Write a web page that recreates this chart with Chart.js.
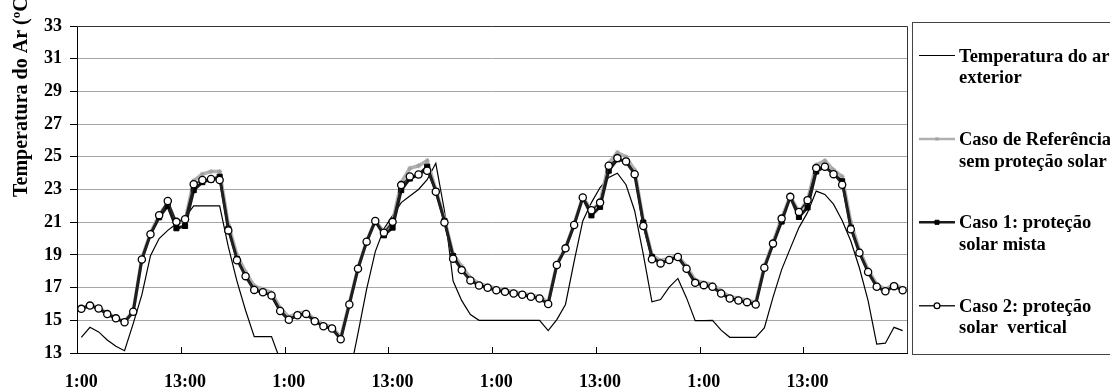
<!DOCTYPE html>
<html>
<head>
<meta charset="utf-8">
<script src="https://cdn.jsdelivr.net/npm/chart.js@4"></script>
<style>
	html, body { margin: 0; padding: 0; background: #fff; }
	#wrap { width: 1110px; height: 387px; }
</style>
</head>
<body>
<div id="wrap"><canvas id="temp_chart" width="1110" height="387"></canvas></div>
<script>
// hourly categories, four days
const hours = ['1:00', '2:00', '3:00', '4:00', '5:00', '6:00', '7:00', '8:00', '9:00', '10:00', '11:00', '12:00',
	'13:00', '14:00', '15:00', '16:00', '17:00', '18:00', '19:00', '20:00', '21:00', '22:00', '23:00', '24:00'];
const days = 4;
const labels = [];
for (let d = 0; d < days; d++) labels.push(...hours);

const yTicks = [13, 15, 17, 19, 21, 23, 25, 27, 29, 31, 33];

// Temperatura do ar exterior
const t_exterior = [
	13.96, 14.57, 14.29, 13.80, 13.41, 13.14, 14.80, 16.55, 18.95, 20.00, 20.50, 20.90,
	21.30, 22.00, 22.00, 22.00, 22.00, 19.50, 17.40, 15.60, 14.00, 14.00, 14.00, 12.57,
	12.30, 12.60, 12.95, 12.50, 12.20, 12.00, 11.80, 11.60, 14.20, 16.90, 19.20, 20.60,
	21.40, 22.20, 22.60, 23.00, 23.60, 24.60, 21.70, 17.40, 16.20, 15.35, 15.00, 15.00,
	15.00, 15.00, 15.00, 15.00, 15.00, 15.00, 14.37, 15.04, 15.97, 18.60, 21.08, 22.20,
	23.12, 23.74, 24.00, 23.29, 21.70, 19.03, 16.13, 16.27, 17.03, 17.56, 16.37, 14.98,
	14.98, 15.00, 14.40, 13.96, 13.96, 13.96, 13.96, 14.53, 16.40, 18.10, 19.40, 20.67,
	21.60, 22.90, 22.70, 22.10, 21.10, 19.85, 18.20, 16.20, 13.55, 13.60, 14.57, 14.37
];

// Caso de Referência sem proteção solar
const t_referencia = [
	15.75, 15.95, 15.77, 15.43, 15.17, 14.93, 15.57, 18.80, 20.35, 21.45, 22.20, 20.90,
	21.10, 23.53, 23.94, 24.10, 24.10, 20.88, 19.00, 17.95, 17.10, 16.90, 16.70, 15.75,
	15.20, 15.45, 15.50, 15.05, 14.75, 14.60, 13.95, 16.05, 18.20, 19.85, 21.10, 20.40,
	21.00, 23.43, 24.30, 24.45, 24.76, 23.00, 21.20, 19.05, 18.30, 17.60, 17.25, 17.10,
	16.95, 16.85, 16.75, 16.65, 16.55, 16.45, 16.10, 18.45, 19.45, 20.90, 22.55, 21.70,
	22.20, 24.60, 25.27, 25.00, 24.20, 21.10, 19.00, 18.65, 18.80, 18.95, 18.30, 17.45,
	17.30, 17.20, 16.80, 16.45, 16.35, 16.25, 16.10, 18.30, 19.75, 21.25, 22.60, 21.60,
	22.35, 24.50, 24.76, 24.20, 23.80, 21.00, 19.30, 18.10, 17.20, 16.90, 17.20, 16.95
];

// Caso 1: proteção solar mista
const t_caso1 = [
	15.70, 15.90, 15.72, 15.38, 15.12, 14.88, 15.52, 18.72, 20.26, 21.30, 22.00, 20.63,
	20.77, 22.96, 23.45, 23.60, 23.78, 20.60, 18.75, 17.70, 16.86, 16.72, 16.52, 15.57,
	15.03, 15.31, 15.39, 14.94, 14.64, 14.50, 13.84, 15.97, 18.16, 19.81, 21.08, 20.20,
	20.67, 22.96, 23.67, 23.90, 24.39, 22.90, 21.08, 18.93, 18.07, 17.44, 17.13, 16.99,
	16.84, 16.74, 16.64, 16.56, 16.44, 16.33, 16.00, 18.38, 19.40, 20.83, 22.51, 21.42,
	21.94, 24.15, 24.85, 24.72, 23.94, 20.98, 18.87, 18.48, 18.69, 18.87, 18.15, 17.29,
	17.15, 17.05, 16.64, 16.33, 16.21, 16.11, 15.97, 18.21, 19.65, 21.04, 22.55, 21.32,
	21.90, 24.10, 24.40, 23.94, 23.50, 20.67, 19.13, 17.95, 17.05, 16.78, 17.09, 16.84
];

// Caso 2: proteção solar vertical
const t_caso2 = [
	15.70, 15.90, 15.72, 15.38, 15.12, 14.88, 15.52, 18.72, 20.26, 21.43, 22.30, 21.02,
	21.18, 23.32, 23.58, 23.64, 23.58, 20.50, 18.67, 17.70, 16.86, 16.72, 16.52, 15.57,
	15.03, 15.31, 15.39, 14.94, 14.64, 14.50, 13.84, 15.97, 18.16, 19.81, 21.08, 20.36,
	21.02, 23.27, 23.80, 23.92, 24.15, 22.86, 20.98, 18.77, 18.07, 17.44, 17.13, 16.99,
	16.84, 16.74, 16.64, 16.56, 16.44, 16.33, 16.00, 18.38, 19.40, 20.83, 22.51, 21.73,
	22.20, 24.45, 24.92, 24.72, 23.94, 20.77, 18.73, 18.48, 18.69, 18.87, 18.15, 17.29,
	17.15, 17.05, 16.64, 16.33, 16.21, 16.11, 15.97, 18.21, 19.69, 21.22, 22.55, 21.63,
	22.35, 24.31, 24.39, 23.94, 23.29, 20.57, 19.13, 17.95, 17.05, 16.78, 17.09, 16.84
];

const legendLines = [
	['Temperatura do ar', 'exterior'],
	['Caso de Referência', 'sem proteção solar'],
	['Caso 1: proteção', 'solar mista'],
	['Caso 2: proteção', 'solar  vertical'],
];

const serif = '"Liberation Serif", "Times New Roman", serif';

// legend in a box on the right, drawn from the dataset styles
const boxLegend = {
	id: 'boxLegend',
	afterDraw(chart) {
		const ctx = chart.ctx;
		const area = chart.chartArea;
		const left = area.right + 5;
		ctx.save();
		ctx.strokeStyle = '#444';
		ctx.lineWidth = 1;
		ctx.strokeRect(left + 0.5, 22.5, 400, 332);
		ctx.font = 'bold 18.5px ' + serif;
		ctx.textBaseline = 'alphabetic';
		ctx.textAlign = 'left';
		chart.data.datasets.forEach((ds, i) => {
			const base = 61.5 + i * 83.4;
			const ly = base - 6;
			ctx.strokeStyle = ds.borderColor;
			ctx.lineWidth = Math.min(ds.borderWidth, 2.5);
			ctx.beginPath();
			ctx.moveTo(left + 7, ly);
			ctx.lineTo(left + 43, ly);
			ctx.stroke();
			if (ds.pointRadius > 0) {
				ctx.fillStyle = ds.pointBackgroundColor;
				ctx.strokeStyle = ds.pointBorderColor;
				ctx.lineWidth = ds.pointBorderWidth;
				Chart.helpers.drawPoint(ctx, {
					pointStyle: ds.pointStyle,
					radius: ds.pointRadius * 0.8,
					rotation: 0,
					borderWidth: ds.pointBorderWidth
				}, left + 25, ly);
			}
			ctx.fillStyle = '#000';
			legendLines[i].forEach((line, k) => {
				ctx.fillText(line, left + 47, base + k * 21.7);
			});
		});
		ctx.restore();
	}
};

// rotated axis title, cut at the top like the original
const yTitle = {
	id: 'yTitle',
	afterDraw(chart) {
		const ctx = chart.ctx;
		ctx.save();
		ctx.translate(27, 197);
		ctx.rotate(-Math.PI / 2);
		ctx.font = 'bold 20px ' + serif;
		ctx.fillStyle = '#000';
		ctx.textAlign = 'left';
		ctx.fillText('Temperatura do Ar (ºC)', 0, 0);
		ctx.restore();
	}
};

// inward x tick marks every 12 h + top/right frame
const frameTicks = {
	id: 'frameTicks',
	afterDatasetsDraw(chart) {
		const xs = chart.scales.x;
		const a = chart.chartArea;
		const ctx = chart.ctx;
		ctx.save();
		ctx.strokeStyle = '#000';
		ctx.lineWidth = 1;
		for (let i = 12; i < labels.length; i += 12) {
			const px = Math.round((xs.getPixelForValue(i - 1) + xs.getPixelForValue(i)) / 2) + 0.5;
			ctx.beginPath();
			ctx.moveTo(px, a.bottom);
			ctx.lineTo(px, a.bottom - 6);
			ctx.stroke();
		}
		ctx.strokeStyle = '#333';
		ctx.beginPath();
		ctx.moveTo(a.left, Math.round(a.top) + 0.5);
		ctx.lineTo(Math.round(a.right) + 0.5, Math.round(a.top) + 0.5);
		ctx.lineTo(Math.round(a.right) + 0.5, a.bottom);
		ctx.stroke();
		ctx.restore();
	}
};

const data_temp = {
	labels: labels,
	datasets: [
		{
			label: 'Temperatura do ar exterior',
			data: t_exterior,
			borderColor: '#000',
			borderWidth: 1.2,
			pointRadius: 0,
			order: 4,
		},
		{
			label: 'Caso de Referência sem proteção solar',
			data: t_referencia,
			borderColor: '#b0b0b0',
			borderWidth: 3.5,
			pointStyle: 'star',
			pointRadius: 2.5,
			pointBorderWidth: 1,
			pointBorderColor: '#a0a0a0',
			pointBackgroundColor: '#a0a0a0',
			order: 3,
		},
		{
			label: 'Caso 1: proteção solar mista',
			data: t_caso1,
			borderColor: '#1a1a1a',
			borderWidth: 3,
			pointStyle: 'rect',
			pointRadius: 3.6,
			pointBorderWidth: 1,
			pointBorderColor: '#000',
			pointBackgroundColor: '#000',
			order: 2,
		},
		{
			label: 'Caso 2: proteção solar vertical',
			data: t_caso2,
			borderColor: '#222',
			borderWidth: 1.5,
			pointStyle: 'circle',
			pointRadius: 3.6,
			pointBorderWidth: 1.3,
			pointBorderColor: '#000',
			pointBackgroundColor: '#fff',
			order: 1,
		},
	]
};

const config_temp = {
	type: 'line',
	data: data_temp,
	plugins: [frameTicks, boxLegend, yTitle],
	options: {
		responsive: false,
		animation: false,
		devicePixelRatio: 1,
		layout: {
			padding: { top: 26, right: 203, bottom: 0, left: 0 }
		},
		plugins: {
			legend: { display: false },
			title: { display: false },
			tooltip: { enabled: false },
		},
		elements: {
			line: { tension: 0 }
		},
		scales: {
			x: {
				type: 'category',
				offset: true,
				afterFit: scale => { scale.height = 34; },
				grid: { display: false, offset: true },
				border: { display: true, color: '#000', width: 1 },
				ticks: {
					autoSkip: false,
					maxRotation: 0,
					padding: 11,
					color: '#000',
					font: { family: serif, size: 18, weight: 'bold' },
					callback: (val, idx) => idx % 12 === 0 ? labels[idx] : null,
				}
			},
			y: {
				min: yTicks[0],
				max: yTicks[yTicks.length - 1],
				afterFit: scale => { scale.width = 77; },
				afterBuildTicks: scale => { scale.ticks = yTicks.map(v => ({ value: v })); },
				grid: {
					color: '#a6a6a6',
					tickColor: '#000',
					tickLength: 7,
				},
				border: { display: true, color: '#000', width: 1 },
				ticks: {
					padding: 8,
					color: '#000',
					font: { family: serif, size: 18, weight: 'bold' },
				}
			},
		}
	},
};

const temp_chart = new Chart(
	document.getElementById('temp_chart'),
	config_temp
);
</script>
</body>
</html>
